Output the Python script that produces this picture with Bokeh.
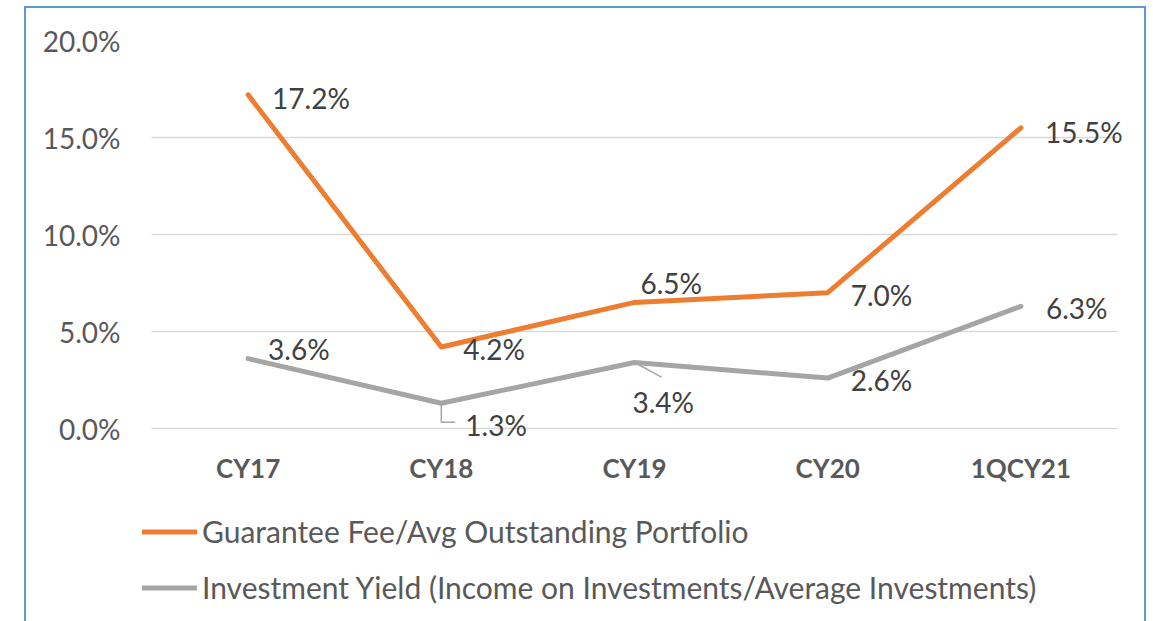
from bokeh.plotting import figure
from bokeh.models import (FactorRange, Range1d, Legend, LegendItem, PrintfTickFormatter,
                          FixedTicker, ColumnDataSource)
from bokeh.core.properties import value
from bokeh.embed import file_html
from bokeh.resources import INLINE

categories = ["CY17", "CY18", "CY19", "CY20", "1QCY21"]
guarantee_fee = [17.2, 4.2, 6.5, 7.0, 15.5]
investment_yield = [3.6, 1.3, 3.4, 2.6, 6.3]
y_ticks = [0, 5, 10, 15, 20]
series_names = ["Guarantee Fee/Avg Outstanding Portfolio",
                "Investment Yield (Income on Investments/Average Investments)"]

ORANGE = "#ED7D31"
GRAY = "#A5A5A5"
BLUE = "#5B9BD5"
FONT = "Lato"

# label offsets (screen px, y down) relative to each point
fee_dx = [24, 22, 6, 23, 24]
fee_dy = [3, 2, -19, 2, 4]
inv_dx = [20, 24, -2, 23, 25]
inv_dy = [-10, 22, 39, 2, 2]

W, H = 1147, 621
p = figure(x_range=FactorRange(*categories, factor_padding=0, range_padding=0.057,
                               range_padding_units="absolute"),
           y_range=Range1d(-9.948, 20), width=W, height=H,
           output_backend="svg", toolbar_location=None,
           min_border_left=140, min_border_right=19, min_border_top=40,
           min_border_bottom=0)
p.outline_line_color = None
p.background_fill_alpha = 0
p.border_fill_alpha = 0
grad = f"linear-gradient({BLUE},{BLUE})"
p.styles = {
    "background-color": "white",
    "background-image": ", ".join([grad] * 3),
    "background-position": "24px 6px, 24px 6px, 1144px 6px",
    "background-size": "2px 700px, 1122px 2px, 2px 700px",
    "background-repeat": "no-repeat",
}

p.xgrid.visible = False
p.ygrid.grid_line_color = "#D9D9D9"
p.ygrid.grid_line_width = 1.5
p.ygrid.cross_bounds = (0, len(categories))

p.yaxis.ticker = FixedTicker(ticks=y_ticks)
p.yaxis.formatter = PrintfTickFormatter(format="%.1f%%")
p.yaxis.axis_line_color = None
p.yaxis.major_tick_line_color = None
p.yaxis.minor_tick_line_color = None
p.yaxis.major_tick_out = 0
p.yaxis.major_label_standoff = 20
p.yaxis.major_label_text_font = FONT
p.yaxis.major_label_text_font_size = "28px"
p.yaxis.major_label_text_color = "#595959"

p.xaxis.fixed_location = 0
p.xaxis.axis_line_color = None
p.xaxis.major_tick_line_color = None
p.xaxis.major_tick_out = 0
p.xaxis.major_label_standoff = 23
p.xaxis.major_label_text_font = FONT
p.xaxis.major_label_text_font_style = "bold"
p.xaxis.major_label_text_font_size = "26px"
p.xaxis.major_label_text_color = "#595959"

r_fee = p.line(categories, guarantee_fee, line_color=ORANGE, line_width=5,
               line_cap="round", line_join="round")
r_inv = p.line(categories, investment_yield, line_color=GRAY, line_width=5,
               line_cap="round", line_join="round")

# leader lines for two gray labels
p.line(x=[("CY18", 0.0), ("CY18", 0.0), ("CY18", 0.072)],
       y=[investment_yield[1] - 0.08, investment_yield[1] - 0.98, investment_yield[1] - 0.98],
       line_color=GRAY, line_width=1.5)
p.line(x=[("CY19", 0.01), ("CY19", 0.14)],
       y=[investment_yield[2] - 0.05, investment_yield[2] - 0.75],
       line_color=GRAY, line_width=1.5)

def fmt(v):
    return f"{v:.1f}%"

src_fee = ColumnDataSource(dict(x=categories, y=guarantee_fee,
                                t=[fmt(v) for v in guarantee_fee], dx=fee_dx, dy=fee_dy))
src_inv = ColumnDataSource(dict(x=categories, y=investment_yield,
                                t=[fmt(v) for v in investment_yield], dx=inv_dx, dy=inv_dy))
for src in (src_fee, src_inv):
    p.text(x="x", y="y", text="t", x_offset="dx", y_offset="dy", source=src,
           text_align="left", text_baseline="middle", text_font=value(FONT),
           text_font_size="28px", text_color="#404040")

legend = Legend(items=[LegendItem(label=series_names[0], renderers=[r_fee]),
                       LegendItem(label=series_names[1], renderers=[r_inv])],
                orientation="vertical", location=(2, 16),
                border_line_color=None, background_fill_alpha=0,
                label_text_font=FONT, label_text_font_size="30px",
                label_text_color="#595959", glyph_width=55, glyph_height=27,
                label_height=27, spacing=20, label_standoff=5, padding=0, margin=0)
p.add_layout(legend, "center")

open("out.html", "w").write(file_html(p, INLINE))
